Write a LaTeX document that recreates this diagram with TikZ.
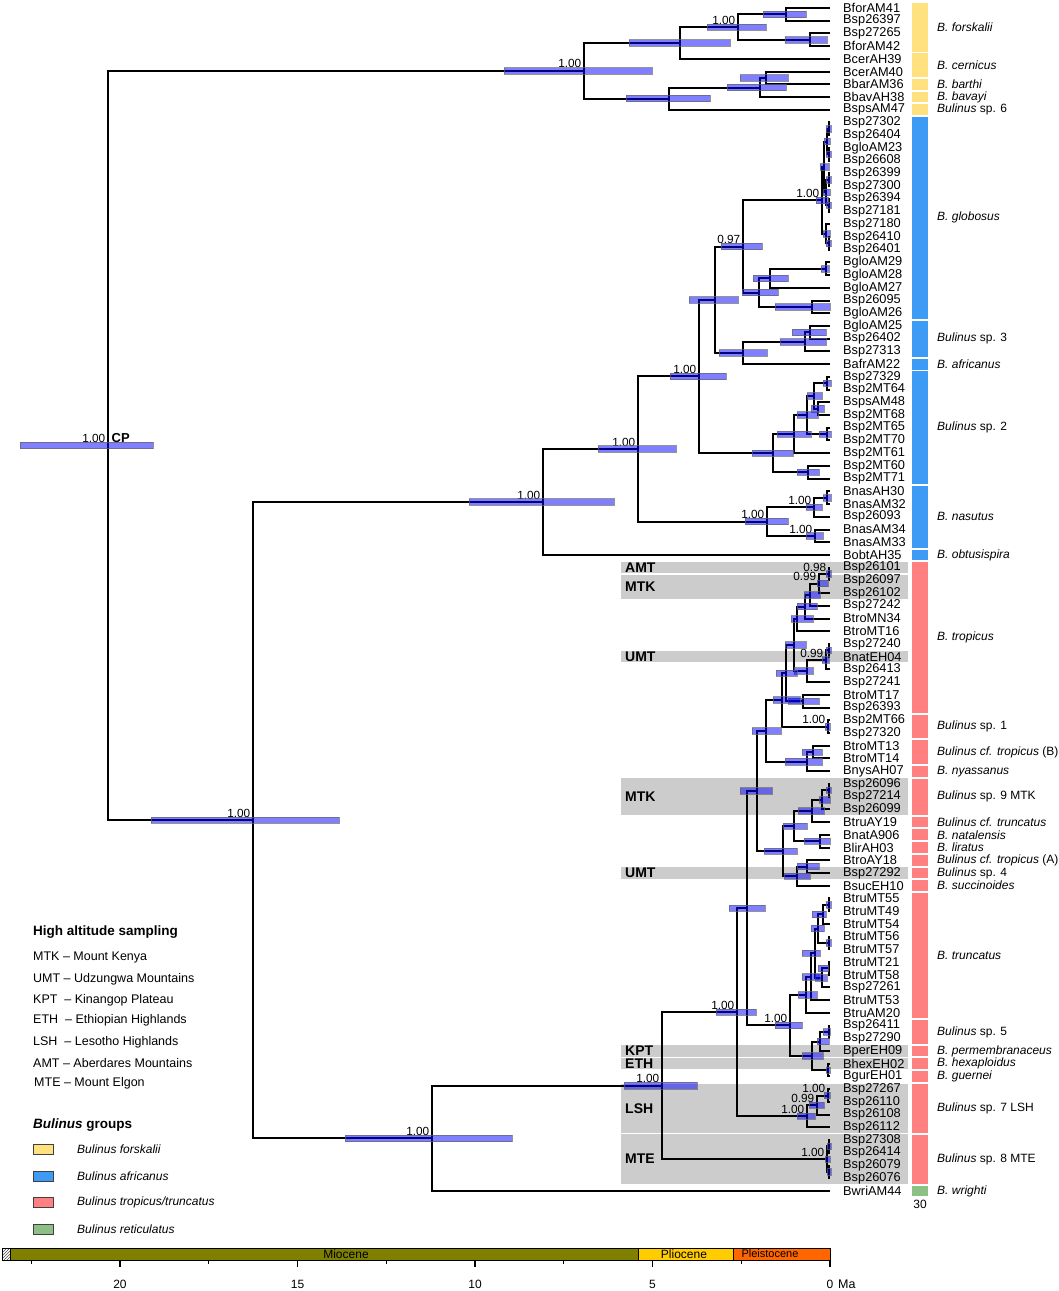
\documentclass[tikz,border=0pt]{standalone}
\usepackage{fontspec}
\setmainfont{Liberation Sans}
\usepackage{tikz}
\usetikzlibrary{calc}
\usetikzlibrary{patterns}
\pgfdeclarelayer{background}
\pgfdeclarelayer{bars}
\pgfsetlayers{background,main,bars}
\definecolor{forskalii}{HTML}{FFE17F}
\definecolor{africanus}{HTML}{3D9BF6}
\definecolor{tropicus}{HTML}{FF8080}
\definecolor{reticulatus}{HTML}{8CC084}
\definecolor{miocene}{HTML}{808000}
\definecolor{pliocene}{HTML}{FFCC00}
\definecolor{pleistocene}{HTML}{FF6600}
% y position of a tip, by its number from the top
\newcommand{\leafy}[1]{8+(#1-1)*12.72}
% clade: name, x, upper child, lower child, hpd left, hpd right
\newcommand{\clade}[6]{%
  \path let \p1=(#3), \p2=(#4) in (#2pt,{0.5*\y1+0.5*\y2}) coordinate (#1);
  \draw[branch] (#3) -| (#1) |- (#4);
  \begin{pgfonlayer}{bars}
    \path[hpdbar] let \p1=(#1) in (#5pt,{\y1-3.2pt}) rectangle (#6pt,{\y1+3.2pt});
  \end{pgfonlayer}}
\newcommand{\prob}[2]{\node[support] (pp#1) at (#1) {#2};}
% grey band for high altitude samples: first tip, last tip, label
\newcommand{\band}[3]{%
  \begin{pgfonlayer}{background}
    \fill[hiband] (621,{\leafy{#1}-5.6}) rectangle (908,{\leafy{#2}+5.6});
  \end{pgfonlayer}
  \node[hilabel] (hb#1) at (625,{(\leafy{#1}+\leafy{#2})/2}) {#3};}
% coloured species bar: first tip, last tip, colour, name
\newcommand{\grp}[4]{%
  \fill[#3] (912,{\leafy{#1}-5.4}) rectangle (928,{\leafy{#2}+5.4});
  \node[spname] (sp#1) at (937,{(\leafy{#1}+\leafy{#2})/2}) {#4};}
\tikzset{
  branch/.style={line width=2pt},
  hpdbar/.style={fill=blue, fill opacity=0.5, draw=black!60, draw opacity=0.7, line width=0.7pt},
  leaflabel/.style={anchor=west, inner sep=0pt, font=\fontsize{12.8}{14}\selectfont},
  spname/.style={anchor=west, inner sep=0pt, font=\fontsize{12}{14}\selectfont},
  support/.style={anchor=south east, inner sep=0.5pt, xshift=-2pt, yshift=2pt, font=\fontsize{11.8}{13}\selectfont},
  hilabel/.style={anchor=west, inner sep=0pt, font=\bfseries\fontsize{14}{16}\selectfont},
  hiband/.style={fill=black!20},
  legtitle/.style={anchor=west, inner sep=0pt, font=\bfseries\fontsize{13.5}{15}\selectfont},
  legtext/.style={anchor=west, inner sep=0pt, font=\fontsize{12.5}{14}\selectfont},
  swatch/.style={draw=black!75, line width=0.8pt},
  epoch/.style={inner sep=0pt, font=\fontsize{12}{13}\selectfont},
  axnum/.style={inner sep=0pt, font=\fontsize{12}{13}\selectfont}
}
\begin{document}
\begin{tikzpicture}[x=1pt, y=-1pt]
  \useasboundingbox (0,0) rectangle (1059,1291);
  % tips
  \foreach \lf [count=\i] in {BforAM41, Bsp26397, Bsp27265, BforAM42, BcerAH39, BcerAM40,
      BbarAM36, BbavAH38, BspsAM47, Bsp27302, Bsp26404, BgloAM23, Bsp26608, Bsp26399,
      Bsp27300, Bsp26394, Bsp27181, Bsp27180, Bsp26410, Bsp26401, BgloAM29, BgloAM28,
      BgloAM27, Bsp26095, BgloAM26, BgloAM25, Bsp26402, Bsp27313, BafrAM22, Bsp27329,
      Bsp2MT64, BspsAM48, Bsp2MT68, Bsp2MT65, Bsp2MT70, Bsp2MT61, Bsp2MT60, Bsp2MT71,
      BnasAH30, BnasAM32, Bsp26093, BnasAM34, BnasAM33, BobtAH35, Bsp26101, Bsp26097,
      Bsp26102, Bsp27242, BtroMN34, BtroMT16, Bsp27240, BnatEH04, Bsp26413, Bsp27241,
      BtroMT17, Bsp26393, Bsp2MT66, Bsp27320, BtroMT13, BtroMT14, BnysAH07, Bsp26096,
      Bsp27214, Bsp26099, BtruAY19, BnatA906, BlirAH03, BtroAY18, Bsp27292, BsucEH10,
      BtruMT55, BtruMT49, BtruMT54, BtruMT56, BtruMT57, BtruMT21, BtruMT58, Bsp27261,
      BtruMT53, BtruAM20, Bsp26411, Bsp27290, BperEH09, BhexEH02, BgurEH01, Bsp27267,
      Bsp26110, Bsp26108, Bsp26112, Bsp27308, Bsp26414, Bsp26079, Bsp26076, BwriAM44} {
    \coordinate (L\i) at (830,{\leafy{\i}});
    \node[leaflabel] (N\i) at (843,{\leafy{\i}}) {\lf};
  }

  % forskalii group
  \clade{F3}{786}{L1}{L2}{763}{806}
  \clade{F4}{810}{L3}{L4}{785}{827}
  \clade{F2}{738}{F3}{F4}{707}{766}
  \clade{F1}{680}{F2}{L5}{629}{730}
  \clade{F7}{766}{L6}{L7}{740}{788}
  \clade{F6}{760}{F7}{L8}{727}{786}
  \clade{F5}{669}{F6}{L9}{626}{710}
  \clade{F0}{584}{F1}{F5}{504}{652}

  % africanus group
  \clade{g1}{829}{L10}{L11}{826}{831}
  \clade{g2}{829}{L12}{L13}{826}{831}
  \clade{gA}{827}{g1}{g2}{824}{830}
  \clade{g3}{829}{L14}{L15}{826}{831}
  \clade{g4}{829}{L16}{L17}{826}{831}
  \clade{gB}{826}{g3}{g4}{823}{830}
  \clade{gAB}{824}{gA}{gB}{820}{829}
  \clade{g5}{829}{L19}{L20}{826}{831}
  \clade{gC}{826}{L18}{g5}{823}{830}
  \clade{G2}{822}{gAB}{gC}{816}{828}
  \clade{G4a}{826}{L21}{L22}{821}{829}
  \clade{G4}{770}{G4a}{L23}{753}{788}
  \clade{G5}{812}{L24}{L25}{775}{830}
  \clade{G3}{759}{G4}{G5}{742}{778}
  \clade{G1}{743}{G2}{G3}{721}{762}
  \clade{S3a}{810}{L26}{L27}{792}{826}
  \clade{S3}{805}{S3a}{L28}{780}{826}
  \clade{S2}{743}{S3}{L29}{719}{767}
  \clade{A3}{715}{G1}{S2}{689}{738}
  \clade{B6}{827}{L30}{L31}{823}{831}
  \clade{B7}{818}{L32}{L33}{811}{824}
  \clade{B4}{814}{B6}{B7}{807}{822}
  \clade{B5}{827}{L34}{L35}{819}{831}
  \clade{B3}{807}{B4}{B5}{797}{818}
  \clade{B1}{794}{B3}{L36}{777}{811}
  \clade{B2}{808}{L37}{L38}{797}{819}
  \clade{Sp2}{773}{B1}{B2}{752}{793}
  \clade{A2}{699}{A3}{Sp2}{670}{726}
  \clade{N1a}{827}{L39}{L40}{823}{831}
  \clade{N1}{814}{N1a}{L41}{806}{822}
  \clade{N2}{815}{L42}{L43}{806}{823}
  \clade{N0}{767}{N1}{N2}{745}{788}
  \clade{A1}{638}{A2}{N0}{598}{676}
  \clade{Afr}{543}{A1}{L44}{469}{614}

  % tropicus / truncatus group
  \clade{R1a}{829}{L45}{L46}{826}{831}
  \clade{R1}{819}{R1a}{L47}{817}{828}
  \clade{R2}{810}{R1}{L48}{804}{820}
  \clade{R3}{805}{R2}{L49}{797}{817}
  \clade{R4}{797}{R3}{L50}{791}{813}
  \clade{R5}{829}{L51}{L52}{826}{831}
  \clade{R6}{826}{R5}{L53}{822}{829}
  \clade{R7}{807}{R6}{L54}{794}{813}
  \clade{R8}{794}{R4}{R7}{785}{806}
  \clade{R9}{803}{L55}{L56}{788}{819}
  \clade{R10}{786}{R8}{R9}{776}{797}
  \clade{Sp1}{828}{L57}{L58}{825}{830}
  \clade{R11}{782}{R10}{Sp1}{773}{800}
  \clade{T9a}{813}{L59}{L60}{802}{822}
  \clade{T9}{807}{T9a}{L61}{785}{822}
  \clade{T6}{766}{R11}{T9}{752}{781}
  \clade{M9a}{829}{L62}{L63}{826}{831}
  \clade{M9}{822}{M9a}{L64}{819}{830}
  \clade{T13}{812}{M9}{L65}{798}{824}
  \clade{T14}{820}{L66}{L67}{804}{830}
  \clade{T11}{794}{T13}{T14}{783}{807}
  \clade{T15}{807}{L68}{L69}{797}{819}
  \clade{T12}{797}{T15}{L70}{784}{810}
  \clade{T7}{783}{T11}{T12}{764}{797}
  \clade{T4}{757}{T6}{T7}{740}{772}
  \clade{Tr1}{829}{L71}{L72}{826}{831}
  \clade{TrA}{823}{Tr1}{L73}{812}{826}
  \clade{Tr2}{829}{L74}{L75}{826}{831}
  \clade{TrB}{818}{TrA}{Tr2}{811}{824}
  \clade{Tr3}{829}{L76}{L77}{818}{828}
  \clade{TrC}{822}{Tr3}{L78}{815}{827}
  \clade{TrD}{815}{TrB}{TrC}{802}{820}
  \clade{TrE}{811}{TrD}{L79}{802}{820}
  \clade{Tru}{806}{TrE}{L80}{798}{817}
  \clade{Sp5b}{829}{L81}{L82}{823}{830}
  \clade{Sp5a}{820}{Sp5b}{L83}{817}{829}
  \clade{Hex}{828}{L84}{L85}{826}{830}
  \clade{Sp5g}{812}{Sp5a}{Hex}{802}{823}
  \clade{T5}{790}{Tru}{Sp5g}{775}{802}
  \clade{T3}{747}{T4}{T5}{729}{765}
  \clade{Ls2}{828}{L86}{L87}{824}{830}
  \clade{Ls1}{817}{Ls2}{L88}{809}{824}
  \clade{LSH}{807}{Ls1}{L89}{797}{815}
  \clade{T2}{737}{T3}{LSH}{716}{756}
  \clade{MTa}{829}{L90}{L91}{827}{831}
  \clade{MTb}{829}{L92}{L93}{827}{831}
  \clade{MTE}{827}{MTa}{MTb}{825}{830}
  \clade{T1}{662}{T2}{MTE}{624}{697}
  \clade{TT}{432}{T1}{L94}{345}{512}

  % backbone
  \clade{M}{253}{Afr}{TT}{151}{339}
  \clade{CP}{108}{F0}{M}{20}{153}

  % posterior probabilities
  \prob{CP}{1.00}
  \node[anchor=south west, inner sep=0.5pt, xshift=3pt, yshift=2pt,
    font=\bfseries\fontsize{13}{15}\selectfont] (cplab) at (CP) {CP};
  \prob{F0}{1.00} \prob{F2}{1.00}
  \prob{M}{1.00} \prob{Afr}{1.00} \prob{A1}{1.00} \prob{A2}{1.00}
  \prob{G1}{0.97} \prob{G2}{1.00}
  \prob{N0}{1.00} \prob{N1}{1.00} \prob{N2}{1.00}
  \prob{R1a}{0.98} \prob{R1}{0.99} \prob{R6}{0.99} \prob{Sp1}{1.00}
  \prob{TT}{1.00} \prob{T1}{1.00} \prob{T2}{1.00} \prob{T5}{1.00}
  \prob{LSH}{1.00} \prob{Ls1}{0.99} \prob{Ls2}{1.00} \prob{MTE}{1.00}

  % high altitude samples
  \band{45}{45}{AMT}
  \band{46}{47}{MTK}
  \band{52}{52}{UMT}
  \band{62}{64}{MTK}
  \band{69}{69}{UMT}
  \band{83}{83}{KPT}
  \band{84}{84}{ETH}
  \band{86}{89}{LSH}
  \band{90}{93}{MTE}

  % species
  \grp{1}{4}{forskalii}{\textit{B. forskalii}}
  \grp{5}{6}{forskalii}{\textit{B. cernicus}}
  \grp{7}{7}{forskalii}{\textit{B. barthi}}
  \grp{8}{8}{forskalii}{\textit{B. bavayi}}
  \grp{9}{9}{forskalii}{\textit{Bulinus} sp. 6}
  \grp{10}{25}{africanus}{\textit{B. globosus}}
  \grp{26}{28}{africanus}{\textit{Bulinus} sp. 3}
  \grp{29}{29}{africanus}{\textit{B. africanus}}
  \grp{30}{38}{africanus}{\textit{Bulinus} sp. 2}
  \grp{39}{43}{africanus}{\textit{B. nasutus}}
  \grp{44}{44}{africanus}{\textit{B. obtusispira}}
  \grp{45}{56}{tropicus}{\textit{B. tropicus}}
  \grp{57}{58}{tropicus}{\textit{Bulinus} sp. 1}
  \grp{59}{60}{tropicus}{\textit{Bulinus cf. tropicus} (B)}
  \grp{61}{61}{tropicus}{\textit{B. nyassanus}}
  \grp{62}{64}{tropicus}{\textit{Bulinus} sp. 9 MTK}
  \grp{65}{65}{tropicus}{\textit{Bulinus cf. truncatus}}
  \grp{66}{66}{tropicus}{\textit{B. natalensis}}
  \grp{67}{67}{tropicus}{\textit{B. liratus}}
  \grp{68}{68}{tropicus}{\textit{Bulinus cf. tropicus} (A)}
  \grp{69}{69}{tropicus}{\textit{Bulinus} sp. 4}
  \grp{70}{70}{tropicus}{\textit{B. succinoides}}
  \grp{71}{80}{tropicus}{\textit{B. truncatus}}
  \grp{81}{82}{tropicus}{\textit{Bulinus} sp. 5}
  \grp{83}{83}{tropicus}{\textit{B. permembranaceus}}
  \grp{84}{84}{tropicus}{\textit{B. hexaploidus}}
  \grp{85}{85}{tropicus}{\textit{B. guernei}}
  \grp{86}{89}{tropicus}{\textit{Bulinus} sp. 7 LSH}
  \grp{90}{93}{tropicus}{\textit{Bulinus} sp. 8 MTE}
  \grp{94}{94}{reticulatus}{\textit{B. wrighti}}
  \node[spname, anchor=center] (thirty) at (920,1204) {30};

  % legend
  \node[legtitle] (hastitle) at (33,932) {High altitude sampling};
  \node[legtext] (ha1) at (33,957) {MTK -- Mount Kenya};
  \node[legtext] (ha2) at (33,979) {UMT -- Udzungwa Mountains};
  \node[legtext] (ha3) at (33,1000) {KPT\ \ -- Kinangop Plateau};
  \node[legtext] (ha4) at (33,1020) {ETH\ \ -- Ethiopian Highlands};
  \node[legtext] (ha5) at (33,1042) {LSH\ \ -- Lesotho Highlands};
  \node[legtext] (ha6) at (33,1063) {AMT -- Aberdares Mountains};
  \node[legtext] (ha7) at (34,1083) {MTE -- Mount Elgon};
  \node[legtitle] (grtitle) at (33,1125) {\textit{Bulinus} groups};
  \foreach \col/\txt [count=\k] in {forskalii/Bulinus forskalii, africanus/Bulinus africanus,
      tropicus/Bulinus tropicus\slash truncatus, reticulatus/Bulinus reticulatus} {
    \draw[swatch, fill=\col] (33,{1118+26.5*\k}) rectangle (53,{1128+26.5*\k});
    \node[legtext, font=\itshape\fontsize{12}{14}\selectfont] (gr\k) at (77,{1123+26.5*\k}) {\txt};
  }

  % time axis
  \fill[pattern=north east lines, pattern color=black!70] (2,1248) rectangle (10,1260);
  \draw[line width=0.6pt] (2,1248) rectangle (10,1260);
  \draw[line width=0.6pt, fill=miocene] (10,1248) rectangle (638,1260);
  \draw[line width=0.6pt, fill=pliocene] (638,1248) rectangle (733,1260);
  \draw[line width=0.6pt, fill=pleistocene] (733,1248) rectangle (830,1260);
  \node[epoch] (mio) at (346,1254) {Miocene};
  \node[epoch] (plio) at (684,1254) {Pliocene};
  \node[epoch, font=\fontsize{11}{12}\selectfont] (pleist) at (770,1254) {Pleistocene};
  \foreach \t in {0,5,10,15,20} {
    \draw[line width=1.2pt] ({830-35.5*\t},1260) -- ++(0,7);
    \node[axnum] (ax\t) at ({830-35.5*\t},1284) {\t};
  }
  \foreach \t in {2.5,7.5,12.5,17.5,22.5}
    \draw[line width=0.9pt] ({830-35.5*\t},1260) -- ++(0,4);
  \node[axnum, anchor=west, font=\fontsize{12.5}{14}\selectfont] (ma) at (838,1284) {Ma};
\end{tikzpicture}
\end{document}
